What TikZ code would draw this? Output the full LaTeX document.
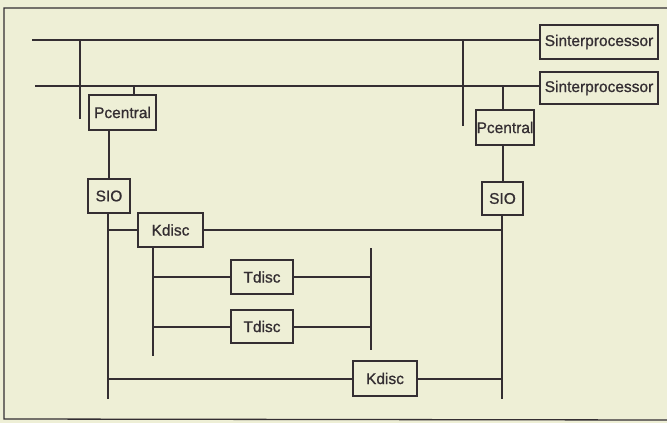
\documentclass[tikz,border=0pt]{standalone}
\usepackage{fontspec}
\setmainfont{Liberation Sans}
\newfontfamily\lblfont[FakeBold=0.9]{Liberation Sans}
\definecolor{bg}{RGB}{238,239,214}
\definecolor{ink}{RGB}{52,46,50}
\begin{document}
\begin{tikzpicture}[x=1pt,y=-1pt,
  box/.style={draw=ink, line width=1.3pt, fill=bg, inner sep=0pt, text=ink,
              font=\lblfont\fontsize{15.5}{15.5}\selectfont},
  wire/.style={draw=ink, line width=2pt},
  frame/.style={draw=ink, line width=1.3pt}]
\fill[bg] (0,0) rectangle (667,423);
\useasboundingbox (0,0) rectangle (667,423);
% frame
\coordinate (fTR) at (667,8);
\coordinate (fTL) at (4,8);
\coordinate (fBL) at (4,419);
\coordinate (fBR) at (667,420);
\draw[frame] (fTR) -- (fTL) -- (fBL) -- (fBR);
% nodes
\node[box, minimum width=118pt, minimum height=34pt] (si1) at (599,42) {Sinterprocessor};
\node[box, minimum width=118pt, minimum height=32pt] (si2) at (599,88) {Sinterprocessor};
\node[box, minimum width=67pt, minimum height=35pt] (pc1) at (122.5,112.5) {Pcentral};
\node[box, minimum width=58pt, minimum height=35pt] (pc2) at (505,127.5) {Pcentral};
\node[box, minimum width=42pt, minimum height=34pt] (sio1) at (109,196) {SIO};
\node[box, minimum width=41pt, minimum height=33pt] (sio2) at (502.5,198.5) {SIO};
\node[box, minimum width=65pt, minimum height=34pt] (kd1) at (170.5,230) {Kdisc};
\node[box, minimum width=62pt, minimum height=34pt] (td1) at (262,277) {Tdisc};
\node[box, minimum width=62pt, minimum height=33pt] (td2) at (262,326.5) {Tdisc};
\node[box, minimum width=64pt, minimum height=35pt] (kd2) at (385,378.5) {Kdisc};
% buses
\coordinate (b1L) at (32,40);
\coordinate (b2L) at (35,86);
\draw[wire] (b1L) -- (b1L -| si1.west);
\draw[wire] (b2L) -- (b2L -| si2.west);
% verticals from bus 1
\coordinate (v1t) at (80,40);
\coordinate (v1b) at (80,119);
\draw[wire] (v1t) -- (v1b);
\coordinate (v2t) at (463,40);
\coordinate (v2b) at (463,126);
\draw[wire] (v2t) -- (v2b);
% Pcentral to bus 2
\draw[wire] (pc1.north -| 134,0) -- (134,86);
\draw[wire] (pc2.north -| 503,0) -- (503,86);
% Pcentral to SIO
\draw[wire] (pc1.south -| sio1.south) -- (sio1.north);
\draw[wire] (pc2.south -| 503,0) -- (sio2.north -| 503,0);
% SIO trunks
\coordinate (t1b) at (108,399);
\coordinate (t2b) at (502,399);
\draw[wire] (sio1.south -| t1b) -- (t1b);
\draw[wire] (sio2.south -| t2b) -- (t2b);
% Kdisc 1
\draw[wire] (kd1.west) -- (kd1.west -| t1b);
\draw[wire] (kd1.east) -- (kd1.east -| t2b);
\coordinate (k1b) at (153,356);
\draw[wire] (kd1.south -| k1b) -- (k1b);
% Tdisc bus
\coordinate (tdt) at (371,248);
\coordinate (tdb) at (371,350);
\draw[wire] (tdt) -- (tdb);
\draw[wire] (td1.west) -- (td1.west -| k1b);
\draw[wire] (td1.east) -- (td1.east -| tdt);
\draw[wire] (td2.west) -- (td2.west -| k1b);
\draw[wire] (td2.east) -- (td2.east -| tdt);
% Kdisc 2
\draw[wire] (kd2.west) -- (kd2.west -| t1b);
\draw[wire] (kd2.east) -- (kd2.east -| t2b);
\end{tikzpicture}
\end{document}
